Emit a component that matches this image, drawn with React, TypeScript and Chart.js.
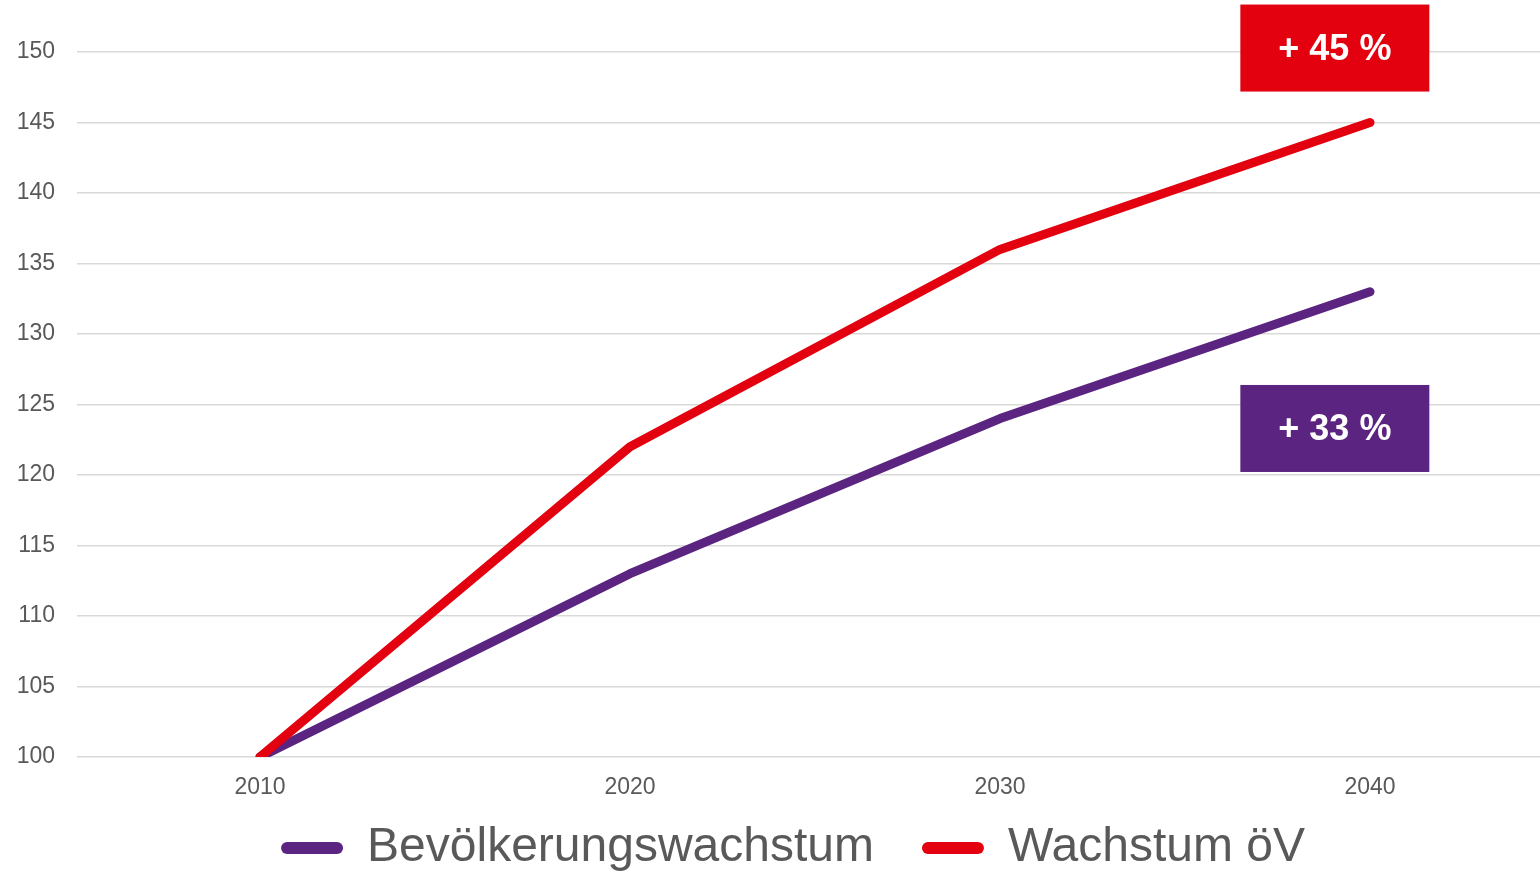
import React, { useEffect, useRef } from "react";
import { Chart, registerables } from "chart.js";

Chart.register(...registerables);

const years = [2010, 2020, 2030, 2040];
const populationGrowth = [100, 113, 124, 133];
const transitGrowth = [100, 122, 136, 145];
const seriesNames = ["Bevölkerungswachstum", "Wachstum öV"];
const seriesColors = ["#5b2480", "#e3000f"];
const yTicks = [100, 105, 110, 115, 120, 125, 130, 135, 140, 145, 150];
const xMin = 2005.054;
const xMax = 2045.838;
const badgeTexts = ["+ 33 %", "+ 45 %"];
const badgeX = [2039.05, 2039.05];
const badgeY = [123.3, 150.28];
const badgeColors = ["#5b2480", "#e3000f"];

const FONT = "'Liberation Sans', Arial, sans-serif";

const badgePlugin = {
  id: "badges",
  afterDatasetsDraw(chart: any) {
    const { ctx, scales } = chart;
    const w = 189;
    const h = 87;
    ctx.save();
    for (let i = 0; i < badgeTexts.length; i++) {
      const cx = scales.x.getPixelForValue(badgeX[i]);
      const cy = scales.y.getPixelForValue(badgeY[i]);
      ctx.fillStyle = badgeColors[i];
      ctx.fillRect(cx - w / 2, cy - h / 2, w, h);
      ctx.fillStyle = "#ffffff";
      ctx.font = `bold 36px ${FONT}`;
      ctx.textAlign = "center";
      ctx.textBaseline = "middle";
      ctx.fillText(badgeTexts[i], cx, cy + 2);
    }
    ctx.restore();
  },
};

// move the legend up a little so it sits close under the axis labels
const legendNudge = {
  id: "legendNudge",
  afterLayout(chart: any) {
    const lg = chart.legend;
    if (lg) {
      lg.top -= 26;
      lg.bottom -= 26;
    }
  },
};

export default function App() {
  const ref = useRef<HTMLCanvasElement>(null);
  useEffect(() => {
    if (!ref.current) return;
    const chart = new Chart(ref.current, {
      type: "line",
      data: {
        datasets: [
          {
            label: seriesNames[0],
            data: years.map((y, i) => ({ x: y, y: populationGrowth[i] })),
            borderColor: seriesColors[0],
            backgroundColor: seriesColors[0],
            borderWidth: 9,
            borderCapStyle: "round",
            borderJoinStyle: "round",
            pointRadius: 0,
            order: 1,
          },
          {
            label: seriesNames[1],
            data: years.map((y, i) => ({ x: y, y: transitGrowth[i] })),
            borderColor: seriesColors[1],
            backgroundColor: seriesColors[1],
            borderWidth: 9,
            borderCapStyle: "round",
            borderJoinStyle: "round",
            pointRadius: 0,
            order: 0,
          },
        ],
      },
      options: {
        responsive: false,
        animation: false,
        layout: { padding: { top: 52, left: 0, right: 0, bottom: 0 } },
        plugins: {
          tooltip: { enabled: false },
          legend: {
            position: "bottom",
            labels: {
              boxWidth: 62,
              boxHeight: 12,
              useBorderRadius: true,
              borderRadius: 6,
              padding: 48,
              color: "#595959",
              font: { family: FONT, size: 48 },
              sort: (a: any, b: any) => a.datasetIndex - b.datasetIndex,
              generateLabels: (c: any) =>
                Chart.defaults.plugins.legend.labels
                  .generateLabels(c)
                  .map((l: any) => ({ ...l, lineWidth: 0, fillStyle: seriesColors[l.datasetIndex] })),
            },
          },
        },
        scales: {
          x: {
            type: "linear",
            min: xMin,
            max: xMax,
            afterBuildTicks: (s: any) => {
              s.ticks = years.map((v) => ({ value: v }));
            },
            afterFit: (s: any) => {
              s.height = 45;
            },
            grid: { display: false, drawTicks: false },
            border: { display: false },
            ticks: {
              padding: 17,
              color: "#595959",
              font: { family: FONT, size: 23 },
              callback: (v: any) => String(v),
              maxRotation: 0,
            },
          },
          y: {
            min: 100,
            max: 150,
            afterBuildTicks: (s: any) => {
              s.ticks = yTicks.map((v) => ({ value: v }));
            },
            afterFit: (s: any) => {
              s.width = 77;
            },
            grid: { color: "#d9d9d9", lineWidth: 1.5, drawTicks: false },
            border: { display: false },
            ticks: {
              padding: 22,
              color: "#595959",
              font: { family: FONT, size: 23 },
              callback: (v: any) => String(v),
            },
          },
        },
      },
      plugins: [badgePlugin, legendNudge],
    } as any);
    return () => chart.destroy();
  }, []);
  return (
    <div
      style={{
        position: "fixed",
        left: 0,
        top: 0,
        width: 1540,
        height: 874,
        overflow: "hidden",
        background: "#ffffff",
      }}
    >
      <canvas ref={ref} width={1586} height={908} style={{ display: "block", width: 1586, height: 908 }} />
    </div>
  );
}
